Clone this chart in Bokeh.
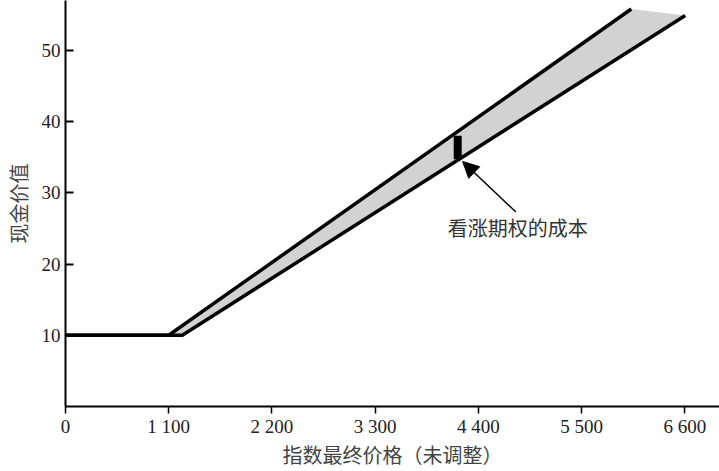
from bokeh.plotting import figure
from bokeh.models import Range1d, FixedTicker, Arrow, NormalHead, Label
from bokeh.embed import file_html
from bokeh.resources import INLINE

# data
upper_x = [0, 1100, 6030]
upper_y = [10, 10, 55.8]
lower_x = [0, 1245, 6605]
lower_y = [10, 10, 54.9]
cost_x = 4180
cost_y = [34.7, 38.0]
arrow_from = (4800, 27.3)
arrow_to = (4232, 34.4)
note_text = "看涨期权的成本"
note_pos = (4820, 25.1)
x_ticks = [0, 1100, 2200, 3300, 4400, 5500, 6600]
x_tick_labels = ["0", "1 100", "2 200", "3 300", "4 400", "5 500", "6 600"]
y_ticks = [10, 20, 30, 40, 50]
x_title = "指数最终价格（未调整）"
y_title = "现金价值"

SERIF = "Liberation Serif"
CJK = "Noto Sans CJK SC"

p = figure(width=719, height=471, output_backend="svg", toolbar_location=None,
           x_range=Range1d(0, 6970), y_range=Range1d(0, 57.0),
           min_border_left=64, min_border_right=0, min_border_top=0, min_border_bottom=62)
p.outline_line_color = None
p.grid.visible = False
p.background_fill_color = "white"

# band
band_x = upper_x + lower_x[::-1]
band_y = upper_y + lower_y[::-1]
p.patch(band_x, band_y, fill_color="#d2d2d2", line_color=None)

p.line(upper_x, upper_y, line_color="black", line_width=3.5, line_join="miter")
p.line(lower_x, lower_y, line_color="black", line_width=3.5, line_join="miter")

# cost bar
p.segment(x0=[cost_x], y0=[cost_y[0]], x1=[cost_x], y1=[cost_y[1]],
          line_color="black", line_width=8, line_cap="butt")

p.add_layout(Arrow(end=NormalHead(size=16, fill_color="black", line_color="black"),
                   x_start=arrow_from[0], y_start=arrow_from[1],
                   x_end=arrow_to[0], y_end=arrow_to[1],
                   line_color="black", line_width=1.5))
p.add_layout(Label(x=note_pos[0], y=note_pos[1], text=note_text,
                   text_font=CJK, text_font_size="20px", text_color="#333333",
                   text_align="center", text_baseline="middle"))

# axes
xa = p.xaxis[0]
xa.ticker = FixedTicker(ticks=x_ticks)
xa.major_label_overrides = {t: l for t, l in zip(x_ticks, x_tick_labels)}
xa.axis_line_width = 2
xa.axis_line_color = "black"
xa.major_tick_in = 0
xa.major_tick_out = 7
xa.major_tick_line_width = 1.5
xa.minor_tick_line_color = None
xa.major_label_text_font = SERIF
xa.major_label_text_font_size = "19px"
xa.major_label_text_color = "#222222"
xa.major_label_standoff = 2
xa.axis_label = x_title
xa.axis_label_text_font = CJK
xa.axis_label_text_font_style = "normal"
xa.axis_label_text_font_size = "20px"
xa.axis_label_text_color = "#444444"
xa.axis_label_standoff = 0

ya = p.yaxis[0]
ya.ticker = FixedTicker(ticks=y_ticks)
ya.axis_line_width = 2
ya.axis_line_color = "black"
ya.major_tick_in = 8
ya.major_tick_out = 0
ya.major_tick_line_width = 2
ya.minor_tick_line_color = None
ya.major_label_text_font = SERIF
ya.major_label_text_font_size = "19px"
ya.major_label_text_color = "#222222"
ya.major_label_standoff = 5
ya.axis_label = y_title
ya.axis_label_text_font = CJK
ya.axis_label_text_font_style = "normal"
ya.axis_label_text_font_size = "20px"
ya.axis_label_text_color = "#444444"
ya.axis_label_standoff = 6

open("out.html", "w").write(file_html(p, INLINE))
